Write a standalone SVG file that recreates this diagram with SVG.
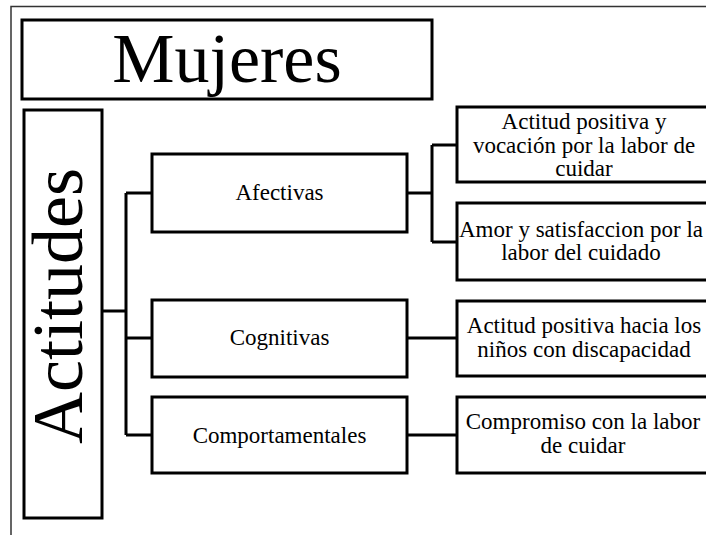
<svg xmlns="http://www.w3.org/2000/svg" width="706" height="535" viewBox="0 0 706 535">
<style>
.box{fill:#fff;stroke:#000;stroke-width:3}
.conn{fill:none;stroke:#000;stroke-width:3}
.t{font-family:"Liberation Serif","Times New Roman",serif;font-size:23px;fill:#000;text-anchor:middle}
.big{font-family:"Liberation Serif","Times New Roman",serif;fill:#000;text-anchor:middle}
</style>
<rect x="0" y="0" width="706" height="535" fill="#fff"/>
<path d="M11,535 V6.5 H706" fill="none" stroke="#333" stroke-width="1.5"/>
<g id="mujeres">
<rect class="box" x="22" y="20" width="410" height="79"/>
<text class="big" x="227" y="82" font-size="70">Mujeres</text>
</g>
<g id="actitudes">
<rect class="box" x="24" y="110" width="78" height="408"/>
<text class="big" font-size="72" transform="translate(82,306) rotate(-90)">Actitudes</text>
</g>
<g id="connectors">
<path class="conn" d="M102,311 H126 M126,193 V435 M126,193 H152 M126,338 H152 M126,435 H152"/>
<path class="conn" d="M407,193 H432 M432,145 V242 M432,145 H457 M432,242 H457"/>
<path class="conn" d="M407,338 H457 M407,435 H457"/>
</g>
<g id="afectivas">
<rect class="box" x="152" y="154" width="255" height="78"/>
<text class="t" x="279.5" y="200">Afectivas</text>
</g>
<g id="cognitivas">
<rect class="box" x="152" y="300" width="255" height="77"/>
<text class="t" x="279.5" y="345">Cognitivas</text>
</g>
<g id="comportamentales">
<rect class="box" x="152" y="397" width="255" height="76"/>
<text class="t" x="279.5" y="443">Comportamentales</text>
</g>
<g id="actitud-positiva-vocacion">
<rect class="box" x="457" y="107" width="260" height="75"/>
<text class="t" x="584" y="129">Actitud positiva y</text>
<text class="t" x="584" y="152.5">vocación por la labor de</text>
<text class="t" x="584" y="176">cuidar</text>
</g>
<g id="amor-satisfaccion">
<rect class="box" x="457" y="203" width="260" height="77"/>
<text class="t" x="581" y="237">Amor y satisfaccion por la</text>
<text class="t" x="581" y="260">labor del cuidado</text>
</g>
<g id="actitud-positiva-ninos">
<rect class="box" x="457" y="301" width="260" height="75"/>
<text class="t" x="584" y="333">Actitud positiva hacia los</text>
<text class="t" x="584" y="357">niños con discapacidad</text>
</g>
<g id="compromiso">
<rect class="box" x="457" y="397" width="260" height="76"/>
<text class="t" x="583" y="429">Compromiso con la labor</text>
<text class="t" x="583" y="453">de cuidar</text>
</g>
</svg>
